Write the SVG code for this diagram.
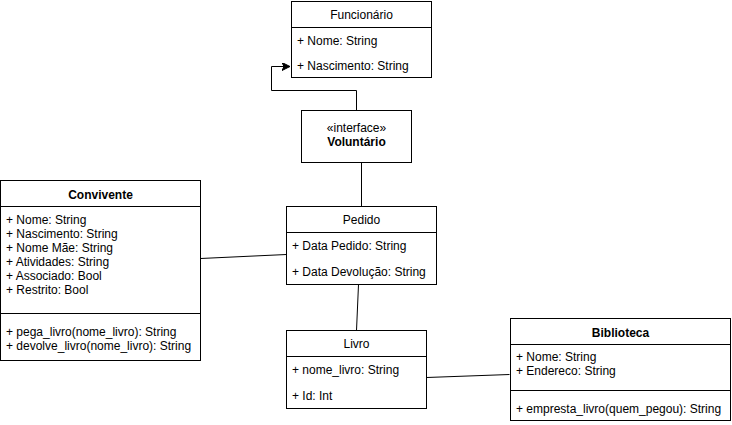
<svg xmlns="http://www.w3.org/2000/svg" width="732" height="425" viewBox="0 0 732 425">
<defs>
<style>
.box{fill:#fff;stroke:#000;stroke-width:1}
.ln{stroke:#000;stroke-width:1;fill:none}
text{font-family:"Liberation Sans",Arial,sans-serif;font-size:12px;fill:#000}
.t{text-anchor:middle}
.b{font-weight:bold}
.c{stroke:#000;stroke-width:1;fill:none}
</style>
<marker id="arr" markerWidth="10" markerHeight="10" refX="8" refY="4" orient="auto" markerUnits="userSpaceOnUse">
<path d="M0,0 L8,4 L0,8 L2,4 Z" fill="#000" stroke="#000" stroke-width="1"/>
</marker>
</defs>
<rect width="732" height="425" fill="#fff"/>
<g id="connectors">
<path class="c" d="M356.5,110.5 V90.5 H271.5 V66.5 H290" marker-end="url(#arr)"/>
<path class="c" d="M361.5,162.5 V206.5"/>
<path class="c" d="M200.5,258.5 L286.5,254.5"/>
<path class="c" d="M358.5,284.5 L356.5,330.5"/>
<path class="c" d="M426.5,377.5 L509.5,374.5"/>
</g>
<g id="funcionario">
<rect class="box" x="291.5" y="1.5" width="140" height="76"/>
<line class="ln" x1="291.5" y1="27.5" x2="431.5" y2="27.5"/>
<text class="t" x="361.5" y="18.5">Funcionário</text>
<text x="297" y="44.5">+ Nome: String</text>
<text x="297" y="70">+ Nascimento: String</text>
</g>
<g id="voluntario">
<rect class="box" x="301.5" y="110.5" width="110" height="52"/>
<text class="t" x="356.5" y="132">«interface»</text>
<text class="t b" x="356.5" y="146">Voluntário</text>
</g>
<g id="convivente">
<rect class="box" x="0.5" y="180.5" width="200" height="180"/>
<line class="ln" x1="0.5" y1="206.5" x2="200.5" y2="206.5"/>
<line class="ln" x1="0.5" y1="313.5" x2="200.5" y2="313.5"/>
<text class="t b" x="100.5" y="199">Convivente</text>
<text x="6" y="223.5">+ Nome: String</text>
<text x="6" y="237.5">+ Nascimento: String</text>
<text x="6" y="251.5">+ Nome Mãe: String</text>
<text x="6" y="265.5">+ Atividades: String</text>
<text x="6" y="279.5">+ Associado: Bool</text>
<text x="6" y="293.5">+ Restrito: Bool</text>
<text x="6" y="336">+ pega_livro(nome_livro): String</text>
<text x="6" y="350">+ devolve_livro(nome_livro): String</text>
</g>
<g id="pedido">
<rect class="box" x="286.5" y="206.5" width="150" height="78"/>
<line class="ln" x1="286.5" y1="232.5" x2="436.5" y2="232.5"/>
<text class="t" x="361.5" y="224">Pedido</text>
<text x="292" y="250">+ Data Pedido: String</text>
<text x="292" y="276">+ Data Devolução: String</text>
</g>
<g id="livro">
<rect class="box" x="286.5" y="330.5" width="140" height="78"/>
<line class="ln" x1="286.5" y1="356.5" x2="426.5" y2="356.5"/>
<text class="t" x="356.5" y="348">Livro</text>
<text x="292" y="374">+ nome_livro: String</text>
<text x="292" y="400">+ Id: Int</text>
</g>
<g id="biblioteca">
<rect class="box" x="510.5" y="318.5" width="220" height="102"/>
<line class="ln" x1="510.5" y1="344.5" x2="730.5" y2="344.5"/>
<line class="ln" x1="510.5" y1="390.5" x2="730.5" y2="390.5"/>
<text class="t b" x="620.5" y="336.5">Biblioteca</text>
<text x="516" y="361">+ Nome: String</text>
<text x="516" y="375">+ Endereco: String</text>
<text x="516" y="413">+ empresta_livro(quem_pegou): String</text>
</g>
</svg>
